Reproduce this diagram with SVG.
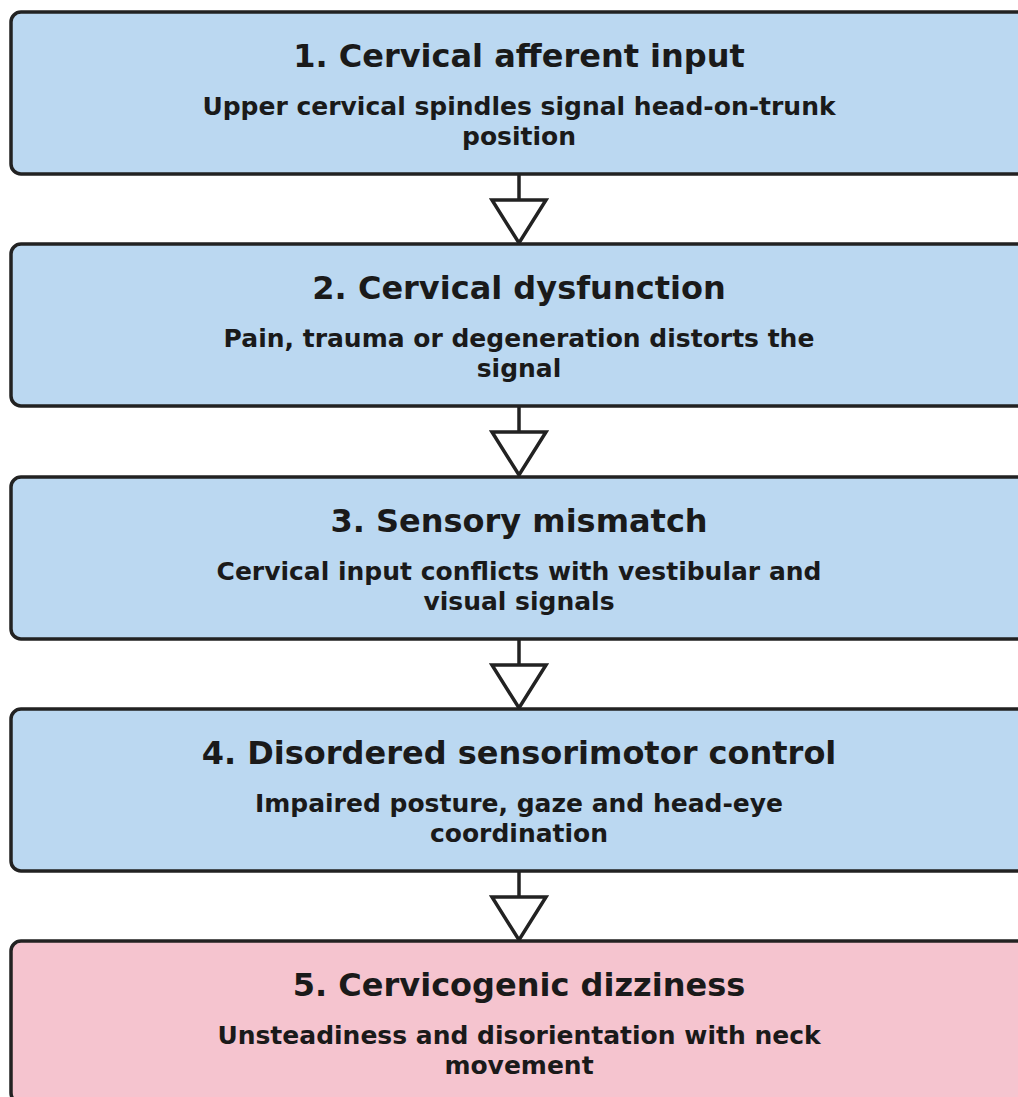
<svg xmlns="http://www.w3.org/2000/svg" width="1018" height="1097" viewBox="0 0 1018 1097">
<style>
.box{stroke:#222;stroke-width:3.5}
.blue{fill:#bbd8f1}
.pink{fill:#f5c4cf}
.t{font-family:"DejaVu Sans",sans-serif;font-weight:bold;fill:#1a1a1a;text-anchor:middle}
.h{font-size:32px}
.s{font-size:25px}
.c{stroke:#222;stroke-width:3.5;fill:#fff;stroke-linejoin:miter}
</style>
<rect width="1018" height="1097" fill="#fff"/>
<g id="connectors">
<g><line class="c" x1="519" y1="175" x2="519" y2="200"/><polygon class="c" points="492,200 546,200 519,243"/></g>
<g><line class="c" x1="519" y1="407" x2="519" y2="432"/><polygon class="c" points="492,432 546,432 519,475"/></g>
<g><line class="c" x1="519" y1="640" x2="519" y2="665"/><polygon class="c" points="492,665 546,665 519,708"/></g>
<g><line class="c" x1="519" y1="872" x2="519" y2="897"/><polygon class="c" points="492,897 546,897 519,940"/></g>
</g>
<g id="node1">
<rect class="box blue" x="11" y="12" width="1020" height="162" rx="10"/>
<text class="t h" x="519" y="67">1. Cervical afferent input</text>
<text class="t s" x="519" y="115">Upper cervical spindles signal head-on-trunk</text>
<text class="t s" x="519" y="145">position</text>
</g>
<g id="node2">
<rect class="box blue" x="11" y="244" width="1020" height="162" rx="10"/>
<text class="t h" x="519" y="299">2. Cervical dysfunction</text>
<text class="t s" x="519" y="347">Pain, trauma or degeneration distorts the</text>
<text class="t s" x="519" y="377">signal</text>
</g>
<g id="node3">
<rect class="box blue" x="11" y="477" width="1020" height="162" rx="10"/>
<text class="t h" x="519" y="532">3. Sensory mismatch</text>
<text class="t s" x="519" y="580">Cervical input conflicts with vestibular and</text>
<text class="t s" x="519" y="610">visual signals</text>
</g>
<g id="node4">
<rect class="box blue" x="11" y="709" width="1020" height="162" rx="10"/>
<text class="t h" x="519" y="764">4. Disordered sensorimotor control</text>
<text class="t s" x="519" y="812">Impaired posture, gaze and head-eye</text>
<text class="t s" x="519" y="842">coordination</text>
</g>
<g id="node5">
<rect class="box pink" x="11" y="941" width="1020" height="162" rx="10"/>
<text class="t h" x="519" y="996">5. Cervicogenic dizziness</text>
<text class="t s" x="519" y="1044">Unsteadiness and disorientation with neck</text>
<text class="t s" x="519" y="1074">movement</text>
</g>
</svg>
